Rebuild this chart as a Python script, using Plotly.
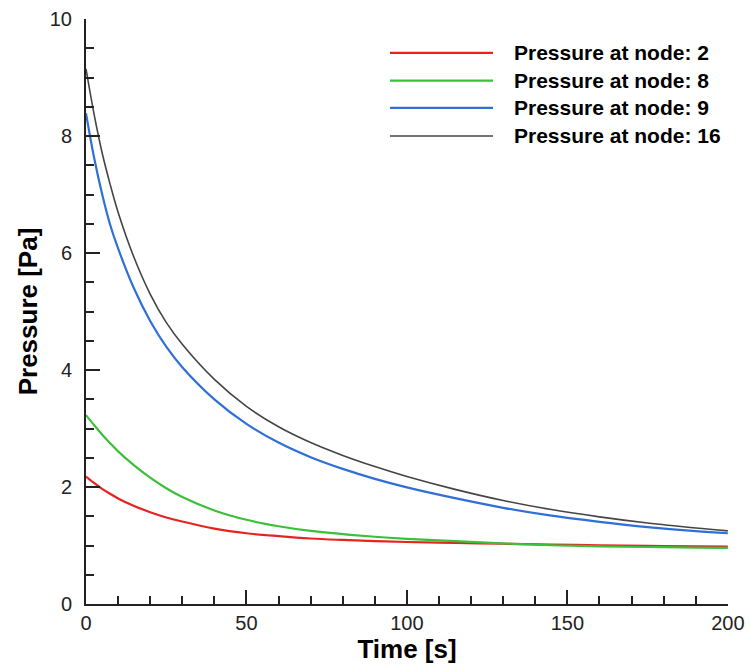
import plotly.graph_objects as go

# ---- data ----
time_s = [0, 2.5, 5, 7.5, 10, 15, 20, 25, 30, 40, 50, 60, 70, 80, 90, 100,
          115, 130, 145, 160, 175, 190, 200]

p_node2 = [2.18, 2.07, 1.97, 1.885, 1.805, 1.675, 1.57, 1.48, 1.41, 1.29, 1.21, 1.16,
           1.12, 1.095, 1.075, 1.06, 1.045, 1.03, 1.015, 1.005, 0.995, 0.985, 0.98]
p_node8 = [3.23, 3.06, 2.90, 2.75, 2.61, 2.37, 2.16, 1.98, 1.83, 1.60, 1.44, 1.33,
           1.25, 1.195, 1.15, 1.115, 1.075, 1.035, 1.005, 0.985, 0.975, 0.965, 0.96]
p_node9 = [8.39, 7.64, 7.015, 6.49, 6.08, 5.39, 4.84, 4.40, 4.05, 3.50, 3.08, 2.76,
           2.51, 2.31, 2.14, 1.995, 1.81, 1.645, 1.51, 1.405, 1.315, 1.245, 1.21]
p_node16 = [9.15, 8.38, 7.72, 7.18, 6.70, 5.92, 5.30, 4.815, 4.44, 3.84, 3.38, 3.03,
            2.76, 2.54, 2.35, 2.18, 1.96, 1.77, 1.615, 1.49, 1.385, 1.30, 1.25]

series_names = ["Pressure at node: 2", "Pressure at node: 8",
                "Pressure at node: 9", "Pressure at node: 16"]
series_values = [p_node2, p_node8, p_node9, p_node16]
series_colors = ["#e8231f", "#3cbf3a", "#2f6fd8", "#454545"]
series_widths = [2.2, 2.2, 2.2, 1.6]

FONT = "Liberation Sans, Arial, sans-serif"

fig = go.Figure()
for name, vals, col, w in zip(series_names, series_values, series_colors, series_widths):
    fig.add_trace(go.Scatter(x=time_s, y=vals, mode="lines", name=name,
                             line=dict(color=col, width=w, shape="spline", smoothing=1.0),
                             showlegend=False))

# custom legend (long line samples like the reference)
leg_y = [0.942, 0.8945, 0.848, 0.800]
for name, col, w, yy in zip(series_names, series_colors, series_widths, leg_y):
    fig.add_shape(type="line", xref="paper", yref="paper",
                  x0=0.4735, x1=0.634, y0=yy, y1=yy,
                  line=dict(color=col, width=w))
    fig.add_annotation(xref="paper", yref="paper", x=0.6636, y=yy,
                       text="<b>" + name + "</b>", showarrow=False,
                       xanchor="left", yanchor="middle",
                       font=dict(family=FONT, size=21, color="black"))

axis_common = dict(
    showgrid=False, zeroline=False, showline=True, linecolor="#222", linewidth=2,
    ticks="inside", ticklen=14, tickwidth=2, tickcolor="#222",
    tickfont=dict(family=FONT, size=20, color="#222"),
    mirror=False, tickmode="linear", tick0=0,
)

fig.update_xaxes(range=[0, 200.05], dtick=50,
                 minor=dict(ticks="inside", ticklen=8, tickwidth=1.5, tickcolor="#222",
                            tickmode="linear", tick0=0, dtick=10),
                 title=dict(text="<b>Time [s]</b>", font=dict(family=FONT, size=26, color="black"),
                            standoff=0),
                 ticklabelstandoff=0,
                 **axis_common)
fig.update_yaxes(range=[0, 10.003], dtick=2,
                 minor=dict(ticks="inside", ticklen=8, tickwidth=1.5, tickcolor="#222",
                            tickmode="linear", tick0=0, dtick=0.5),
                 title=dict(text="<b>Pressure [Pa]</b>", font=dict(family=FONT, size=26, color="black"),
                            standoff=5),
                 ticklabelstandoff=8,
                 **axis_common)

fig.update_layout(
    width=751, height=665,
    margin=dict(l=86, r=23, t=19, b=61, autoexpand=False),
    paper_bgcolor="white", plot_bgcolor="white",
    font=dict(family=FONT, color="black"),
)

fig.write_html("out.html")
